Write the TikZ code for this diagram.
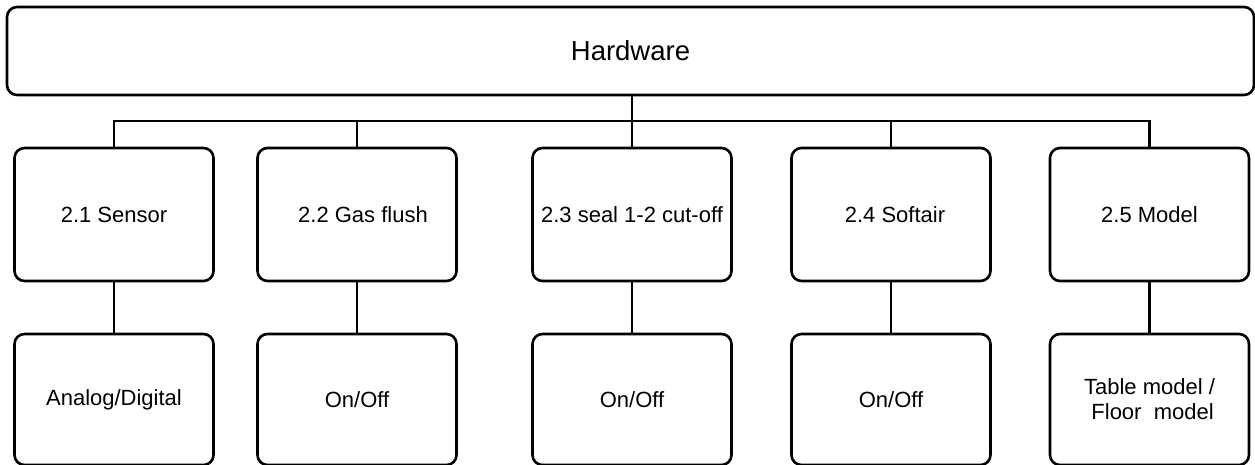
\documentclass[tikz,border=0pt]{standalone}
\usepackage{fontspec}
\setmainfont{Liberation Sans}
\usetikzlibrary{positioning}

\tikzset{
  blk/.style={draw, line width=2.6pt, rounded corners=10pt, inner sep=0pt,
    minimum width=199pt, minimum height=133pt, align=center,
    font=\fontsize{22}{25}\selectfont},
  leaf/.style={blk, minimum height=131pt},
  link/.style={line width=2.6pt},
}

\begin{document}
\begin{tikzpicture}[x=1pt,y=1pt]
        \useasboundingbox (0,0) rectangle (1255,-465);

        \node (hw) [blk, minimum width=1247pt, minimum height=88pt,
            font=\fontsize{27.5}{30}\selectfont] at (630.5,-51) {Hardware};
        \coordinate (bus) at (632,-121);

        % first row
        \node (s1) [blk] at (114,-214.5) {2.1 Sensor};
        \node (s2) [blk] at (357,-214.5) {\hspace*{12pt}2.2 Gas flush};
        \node (s3) [blk] at (632,-214.5) {2.3 seal 1-2 cut-off};
        \node (s4) [blk] at (891,-214.5) {\hspace*{8pt}2.4 Softair};
        \node (s5) [blk] at (1149.5,-214.5) {2.5 Model};

        % second row
        \node (o1) [leaf] at (114,-399.5) {Analog/Digital};
        \node (o2) [leaf] at (357,-399.5) {On/Off};
        \node (o3) [leaf] at (632,-399.5) {On/Off};
        \node (o4) [leaf] at (891,-399.5) {On/Off};
        \node (o5) [leaf] at (1149.5,-399.5) {Table model /\\\mbox{}\ Floor\ \ model};

        \draw[link] (hw.south -| bus) -- (bus);
        \foreach \i in {1,...,5} {
            \draw[link] (bus) -| (s\i.north);
            \draw[link] (s\i.south) -- (o\i.north);
        }

    \end{tikzpicture}
\end{document}
